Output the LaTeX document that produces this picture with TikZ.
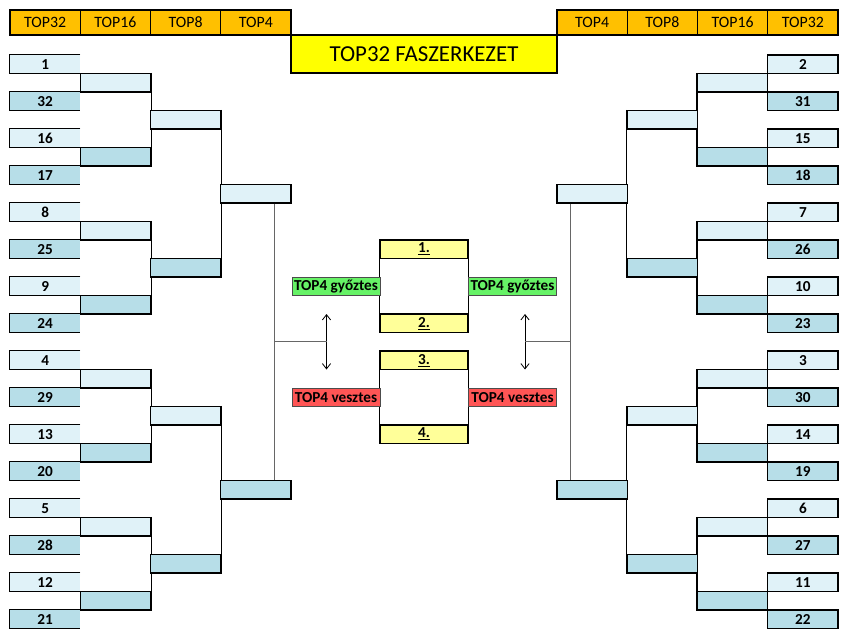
\documentclass[tikz,border=0pt]{standalone}
\usepackage{fontspec}
\setmainfont{Carlito}
\usetikzlibrary{calc}
\usetikzlibrary{arrows.meta}
\usepackage{xcolor}

\definecolor{lblue}{HTML}{E0F2F8}
\definecolor{dblue}{HTML}{B7DEE8}
\definecolor{hdrorange}{HTML}{FFC000}
\definecolor{ttlyellow}{HTML}{FFFF00}
\definecolor{plcyellow}{HTML}{FFFF99}
\definecolor{wingreen}{HTML}{66F266}
\definecolor{losred}{HTML}{FF5555}

\begin{document}
\begin{tikzpicture}[x=0.03cm, y=-0.03cm]
        % ================= styles =================
        \tikzset{
            % header cells
            hbox/.style={rectangle, draw=black, line width=1pt, fill=hdrorange, minimum width=2.1075cm, minimum height=0.75cm, inner sep=0pt, font=\fontsize{13.5}{15}\selectfont},
            % bracket cells (no border, drawn later)
            cell/.style={rectangle, minimum width=2.1075cm, minimum height=0.555cm, inner sep=0pt, font=\fontsize{13}{14}\selectfont\bfseries},
            lcell/.style={cell, fill=lblue},
            dcell/.style={cell, fill=dblue},
            % bracket cells with full border
            lbox/.style={lcell, draw=black, line width=1pt},
            dbox/.style={dcell, draw=black, line width=1pt},
            % place boxes in the middle
            pbox/.style={cell, draw=black, line width=1pt, fill=plcyellow, minimum width=2.64cm},
            wbox/.style={cell, draw=black!70, line width=0.5pt, fill=wingreen, minimum width=2.64cm},
            lsbox/.style={cell, draw=black!70, line width=0.5pt, fill=losred, minimum width=2.64cm},
            % lines
            bline/.style={line width=1pt, black},
            gline/.style={line width=1.1pt, black!60},
            swap arrow/.style={line width=0.7pt, black, {Straight Barb[length=4.5pt,width=7pt]}-{Straight Barb[length=4.5pt,width=7pt]}}
        }
        \useasboundingbox (0,0) rectangle (848,640);

        % ================= header =================
        \foreach \t [count=\i from 0] in {TOP32,TOP16,TOP8,TOP4} {
            \node[hbox] (hl\i) at (45.125+70.25*\i, 22.5) {\t};
            \node[hbox] (hr\i) at (802.875-70.25*\i, 22.5) {\t};
        }
        \node[rectangle, draw=black, line width=1pt, fill=ttlyellow, minimum width=7.98cm, minimum height=1.14cm, font=\fontsize{19.5}{22}\selectfont] (title) at (424, 54) {TOP32 FASZERKEZET};

        % ================= TOP32 =================
        \foreach \a/\b [count=\i from 0] in {1/32,16/17,8/25,9/24,4/29,13/20,5/28,12/21} {
            \node[lcell] (s\a) at (45.125, 45.75+18.5*4*\i+18.5) {\a};
            \node[dcell] (s\b) at (45.125, 45.75+18.5*4*\i+55.5) {\b};
            \draw[bline] (s\a.north east) -- (s\a.north west) -- (s\a.south west) -- (s\a.south east);
            \draw[bline] (s\b.north east) -- (s\b.north west) -- (s\b.south west) -- (s\b.south east);
        }
        \foreach \a/\b [count=\i from 0] in {2/31,15/18,7/26,10/23,3/30,14/19,6/27,11/22} {
            \node[lbox] (s\a) at (802.875, 45.75+18.5*4*\i+18.5) {\a};
            \node[dbox] (s\b) at (802.875, 45.75+18.5*4*\i+55.5) {\b};
        }

        % ================= TOP16 =================
        \foreach \i in {0,...,3} {
            \node[lbox] (l16a\i) at (115.375, 45.75+18.5*8*\i+37) {};
            \node[dbox] (l16b\i) at (115.375, 45.75+18.5*8*\i+111) {};
            \draw[bline] (l16a\i.north east) -- (l16b\i.south east);
            \node[lbox] (r16a\i) at (732.625, 45.75+18.5*8*\i+37) {};
            \node[dbox] (r16b\i) at (732.625, 45.75+18.5*8*\i+111) {};
            \draw[bline] (r16a\i.north west) -- (r16b\i.south west);
        }

        % ================= TOP8 =================
        \foreach \i in {0,1} {
            \node[lbox] (l8a\i) at (185.625, 45.75+18.5*16*\i+74) {};
            \node[dbox] (l8b\i) at (185.625, 45.75+18.5*16*\i+222) {};
            \draw[bline] (l8a\i.north east) -- (l8b\i.south east);
            \node[lbox] (r8a\i) at (662.375, 45.75+18.5*16*\i+74) {};
            \node[dbox] (r8b\i) at (662.375, 45.75+18.5*16*\i+222) {};
            \draw[bline] (r8a\i.north west) -- (r8b\i.south west);
        }

        % ================= TOP4 =================
        \node[lbox] (l4a) at (255.875, 193.75) {};
        \node[dbox] (l4b) at (255.875, 489.75) {};
        \node[lbox] (r4a) at (592.125, 193.75) {};
        \node[dbox] (r4b) at (592.125, 489.75) {};

        \coordinate (lj1) at ([xshift=-0.51cm]l4a.south east);
        \coordinate (lj2) at ([xshift=-0.51cm]l4b.north east);
        \coordinate (rj1) at ([xshift=0.42cm]r4a.south west);
        \coordinate (rj2) at ([xshift=0.42cm]r4b.north west);
        \draw[gline] (lj1) -- (lj2);
        \draw[gline] (rj1) -- (rj2);

        % ================= final / bronze =================
        \node[pbox] (p1) at (424, 249.25) {\underline{1.}};
        \node[pbox] (p2) at (424, 323.25) {\underline{2.}};
        \node[pbox] (p3) at (424, 360.25) {\underline{3.}};
        \node[pbox] (p4) at (424, 434.25) {\underline{4.}};
        \draw[bline] (p1.north west) -- (p2.south west);
        \draw[bline] (p1.north east) -- (p2.south east);
        \draw[bline] (p3.north west) -- (p4.south west);
        \draw[bline] (p3.north east) -- (p4.south east);

        \node[wbox] (wl) at (336, 286.25) {TOP4 győztes};
        \node[wbox] (wr) at (512.5, 286.25) {TOP4 győztes};
        \node[lsbox] (vl) at (336, 397.25) {TOP4 vesztes};
        \node[lsbox] (vr) at (512.5, 397.25) {TOP4 vesztes};

        % swap arrows
        \coordinate (la1) at (326.5, 314);
        \coordinate (la2) at (326.5, 369.5);
        \coordinate (ra1) at (525, 314);
        \coordinate (ra2) at (525, 369.5);
        \draw[swap arrow] (la1) -- (la2);
        \draw[swap arrow] (ra1) -- (ra2);
        \draw[gline] ($(lj1)!0.5!(lj2)$) -- ($(la1)!0.5!(la2)$);
        \draw[gline] ($(rj1)!0.5!(rj2)$) -- ($(ra1)!0.5!(ra2)$);

    \end{tikzpicture}
\end{document}
